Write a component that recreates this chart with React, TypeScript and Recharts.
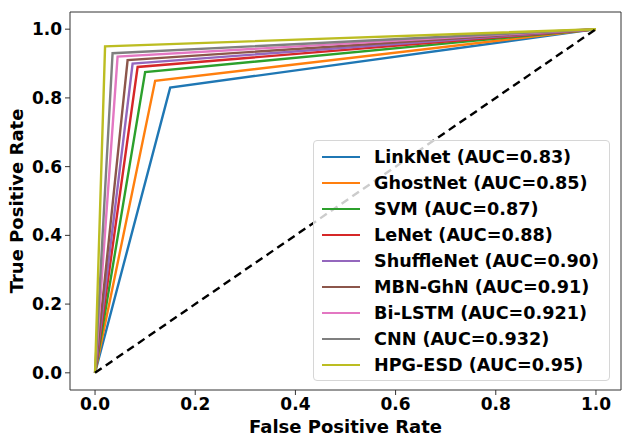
import { LineChart, Line, XAxis, YAxis } from "recharts";

// ROC operating points: each model is (0,0) -> (fpr, tpr) -> (1,1)
const models = ["LinkNet", "GhostNet", "SVM", "LeNet", "ShuffleNet", "MBN-GhN", "Bi-LSTM", "CNN", "HPG-ESD"];
const aucLabels = ["0.83", "0.85", "0.87", "0.88", "0.90", "0.91", "0.921", "0.932", "0.95"];
const fpr = [0.15, 0.12, 0.1, 0.085, 0.075, 0.065, 0.045, 0.035, 0.02];
const tpr = [0.83, 0.85, 0.875, 0.89, 0.9, 0.91, 0.92, 0.93, 0.95];
const colors = ["#1f77b4", "#ff7f0e", "#2ca02c", "#d62728", "#9467bd", "#8c564b", "#e377c2", "#7f7f7f", "#bcbd22"];
const ticks = [0, 0.2, 0.4, 0.6, 0.8, 1.0];

const chance = [
  { x: 0, y: 0 },
  { x: 1, y: 1 },
];

const curves = models.map((m, i) => ({
  name: m,
  points: [
    { x: 0, y: 0 },
    { x: fpr[i], y: tpr[i] },
    { x: 1, y: 1 },
  ],
}));

const font = "'DejaVu Sans', sans-serif";
const tickStyle = { fill: "#000", fontSize: 17, fontWeight: 700, fontFamily: font };
const titleStyle = { ...tickStyle, fontSize: 18 };
const axisColor = "#333";

// legend box sits over the plot; the semi-transparent fill lets the chance line show through
function RocLegend() {
  return (
    <div
      style={{
        position: "absolute",
        left: 313,
        top: 140,
        width: 297,
        boxSizing: "border-box",
        background: "rgba(255,255,255,0.8)",
        border: "1px solid #d6d6d6",
        borderRadius: 4,
        padding: "3px 0 2px 8px",
        fontFamily: font,
        fontWeight: 700,
        fontSize: 17.6,
        color: "#000",
        whiteSpace: "nowrap",
      }}
    >
      {models.map((m, i) => (
        <div key={m} style={{ display: "flex", alignItems: "center", height: 26 }}>
          <span style={{ display: "inline-block", width: 38, height: 2.4, background: colors[i], marginRight: 14 }} />
          <span>{`${m} (AUC=${aucLabels[i]})`}</span>
        </div>
      ))}
    </div>
  );
}

export default function App() {
  return (
    <div style={{ position: "absolute", left: 0, top: 0, width: 630, height: 441, background: "#fff" }}>
      <LineChart width={630} height={441} margin={{ top: 0, right: 0, bottom: 0, left: 0 }}>
        <XAxis
          xAxisId="bottom"
          type="number"
          dataKey="x"
          domain={[-0.05, 1.05]}
          ticks={ticks}
          allowDataOverflow
          height={51}
          tickSize={5}
          tickMargin={3}
          tick={tickStyle}
          tickFormatter={(v: number) => v.toFixed(1)}
          stroke={axisColor}
          label={{ value: "False Positive Rate", position: "insideBottom", offset: 8, style: titleStyle }}
        />
        <XAxis
          xAxisId="top"
          orientation="top"
          type="number"
          dataKey="x"
          domain={[-0.05, 1.05]}
          ticks={ticks}
          allowDataOverflow
          height={12}
          tickSize={5}
          tick={false}
          stroke={axisColor}
        />
        <YAxis
          yAxisId="left"
          type="number"
          domain={[-0.05, 1.05]}
          ticks={ticks}
          allowDataOverflow
          width={70}
          tickSize={5}
          tickMargin={3}
          tick={tickStyle}
          tickFormatter={(v: number) => v.toFixed(1)}
          stroke={axisColor}
          label={{ value: "True Positive Rate", angle: -90, position: "center", dx: -18, style: titleStyle }}
        />
        <YAxis
          yAxisId="right"
          orientation="right"
          type="number"
          domain={[-0.05, 1.05]}
          ticks={ticks}
          allowDataOverflow
          width={9}
          tickSize={5}
          tick={false}
          stroke={axisColor}
        />
        {curves.map((c, i) => (
          <Line
            key={c.name}
            xAxisId="bottom"
            yAxisId="left"
            data={c.points}
            dataKey="y"
            name={c.name}
            type="linear"
            stroke={colors[i]}
            strokeWidth={2.4}
            dot={false}
            isAnimationActive={false}
          />
        ))}
        <Line
          xAxisId="bottom"
          yAxisId="left"
          data={chance}
          dataKey="y"
          type="linear"
          stroke="#000"
          strokeWidth={2.4}
          strokeDasharray="8 5"
          dot={false}
          legendType="none"
          isAnimationActive={false}
        />
      </LineChart>
      <RocLegend />
    </div>
  );
}
